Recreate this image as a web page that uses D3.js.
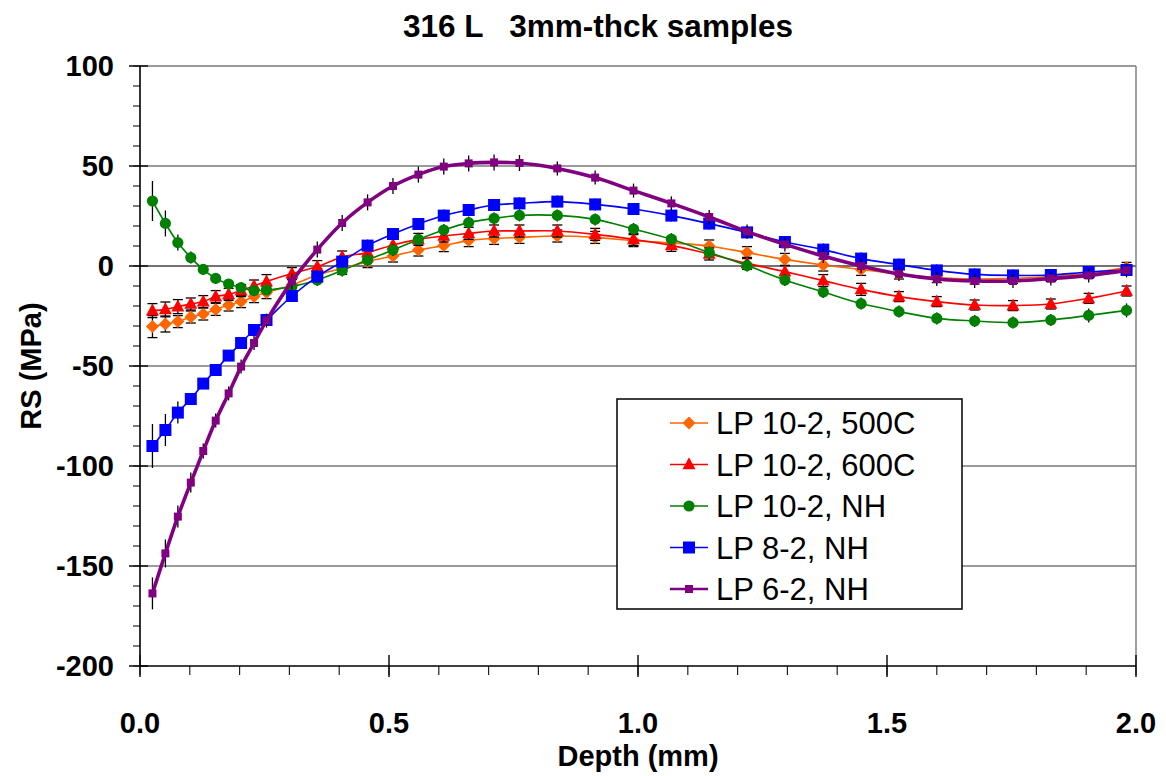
<!DOCTYPE html>
<html>
<head>
<meta charset="utf-8">
<script src="https://cdn.jsdelivr.net/npm/d3@7"></script>
<style>
  html, body { margin: 0; padding: 0; background: #fff; }
  svg { display: block; font-family: "Liberation Sans", Arial, Helvetica, sans-serif; }
</style>
</head>
<body>
<svg id="chart" width="1166" height="776"></svg>
<script>
// ---------------- DATA ----------------
const chartTitle = "316 L   3mm-thck samples";
const xAxisTitle = "Depth (mm)";
const yAxisTitle = "RS (MPa)";
const xTickValues = [0.0, 0.5, 1.0, 1.5, 2.0];
const xTickLabels = ["0.0", "0.5", "1.0", "1.5", "2.0"];
const yTickValues = [-200, -150, -100, -50, 0, 50, 100];
const yTickLabels = ["-200", "-150", "-100", "-50", "0", "50", "100"];

const depth = [0.025,0.051,0.076,0.102,0.127,0.152,0.178,0.203,0.229,0.254,
               0.305,0.356,0.406,0.457,0.508,0.559,0.610,0.660,0.711,0.762,
               0.838,0.914,0.991,1.067,1.143,1.219,1.295,1.372,1.448,1.524,
               1.600,1.676,1.753,1.829,1.905,1.981];

const seriesNames = ["LP 10-2, 500C", "LP 10-2, 600C", "LP 10-2, NH", "LP 8-2, NH", "LP 6-2, NH"];

const rs500C = [-30.3,-29,-27.8,-25.5,-24,-21.7,-19.5,-17.8,-15.3,-13.3,
                -9.5,-4.5,-1.2,2.2,5,8,10.2,12.7,13.8,14.3,
                15,14.3,12.7,11.5,10,6.7,3.3,0.5,-1.7,-4,
                -5.8,-6.5,-6.2,-5.3,-3.7,-0.7];
const rs600C = [-22.3,-21.7,-20.3,-19,-17.8,-15.3,-14.2,-12.3,-10,-7.8,
                -3.8,-0.3,4.5,6.7,10.5,13.3,15,16.3,17.5,17.5,
                17.5,15.8,13.3,10.3,6,1.3,-2.8,-7.3,-11.7,-15.3,
                -17.8,-19.5,-19.8,-19,-16.2,-12.5];
const rs10NH = [32.5,21.3,11.7,4.2,-1.7,-6.2,-9,-10.8,-12.3,-12,
                -10.3,-7,-2.2,3,8,13.3,18,21.7,23.8,25.3,
                25.3,23.3,18.5,13.4,6.8,0.2,-7,-13,-18.8,-22.8,
                -26.2,-27.5,-28.3,-27,-24.7,-22.2];
const rs8NH  = [-90,-82,-73.3,-66.5,-58.8,-52,-44.8,-38.5,-32,-27,
                -15,-5.3,2.2,10.2,16,21,25.2,28,30.5,31.3,
                32.2,30.8,28.5,25.2,21.2,16.8,12,8.2,3.7,0.7,
                -2.2,-4.2,-4.7,-4.5,-3,-2];
const rs6NH  = [-163.7,-143.7,-125.3,-108.3,-92.5,-77.3,-63.7,-50.3,-38.5,-27.3,
                -7.7,8.2,21.5,31.8,40,45.7,49.7,51.3,51.8,51.5,
                48.8,44.2,37.7,31.3,24.5,17.2,10.8,5,0,-4,
                -6.5,-7.5,-7.5,-6.3,-4.7,-2.2];

const err500C = [5.5,4,3,3,3,3,3,3,3,3, 3,3,3,3,3,3,3,3,3,3, 3,3,3,3,3,3,3,3,3,2.5, 2.5,2.5,2.5,2.5,2.5,2.5];
const err600C = [3.5,3.7,3.5,3,3,3,3,3,3,3.5, 3,3,3,3,3,3,3,3,3,3, 3,3,3,3,3,3,3,3,3,2.5, 2.5,2.5,2.5,2.5,2.5,2.5];
const err10NH = [10,6.5,4,3,2.5,2.5,2.5,2.5,2.5,2.5, 3,3,3,3,3,3,3,3,3,3, 3,3,3,3,3,3,3,3,3,3, 3,3,3,3,3.5,3.5];
const err8NH  = [11,8,5.5,3,2.5,2.5,2.5,2.5,2.5,2.5, 3,3,3,3,3,3,3,3,3,3, 3,3,3,3,3,3,3,3,3,3, 3,3,3,3,3,3];
const err6NH  = [8,7,5.5,5,3.7,3.5,3.5,3.5,3.5,3.5, 4,4,4,4,4,4,4,4,4,4, 3.5,3.5,3.5,3.5,3.5,3.5,3.5,3.5,3.5,3.5, 3.5,3.5,3.5,3.5,3.5,3.5];

// ---------------- STYLE / LAYOUT ----------------
const colors = ["#FF6600", "#FF0000", "#008000", "#0000FF", "#800080"];
const lineWidths = [1.6, 1.6, 1.6, 1.6, 3.6];
const markerTypes = ["diamond", "triangle", "circle", "square", "smallsquare"];
const capFlags = [true, true, false, false, false];
const values = [rs500C, rs600C, rs10NH, rs8NH, rs6NH];
const errors = [err500C, err600C, err10NH, err8NH, err6NH];

const plot = { left: 140, right: 1136, top: 66, bottom: 666 };
const svg = d3.select("#chart");

const x = d3.scaleLinear().domain([0, 2]).range([plot.left, plot.right]);
const y = d3.scaleLinear().domain([-200, 100]).range([plot.bottom, plot.top]);

// gridlines
svg.append("g").selectAll("line").data(yTickValues.filter(v => v > -200))
  .join("line")
  .attr("x1", plot.left).attr("x2", plot.right)
  .attr("y1", d => y(d)).attr("y2", d => y(d))
  .attr("stroke", d => d === 0 ? "#444" : "#7a7a7a")
  .attr("stroke-width", 1.4);

// right border
svg.append("line")
  .attr("x1", plot.right).attr("x2", plot.right)
  .attr("y1", plot.top).attr("y2", plot.bottom)
  .attr("stroke", "#7a7a7a").attr("stroke-width", 1.4);

// Y axis
const yMinor = d3.range(-200, 101, 10);
const gy = svg.append("g");
gy.selectAll("line.minor").data(yMinor).join("line")
  .attr("class", "minor")
  .attr("x1", plot.left - 7).attr("x2", plot.left)
  .attr("y1", d => y(d)).attr("y2", d => y(d))
  .attr("stroke", "#222").attr("stroke-width", 1.2);
gy.selectAll("line.major").data(yTickValues).join("line")
  .attr("class", "major")
  .attr("x1", plot.left - 11).attr("x2", plot.left + 8)
  .attr("y1", d => y(d)).attr("y2", d => y(d))
  .attr("stroke", "#111").attr("stroke-width", 1.5);
gy.append("line")
  .attr("x1", plot.left).attr("x2", plot.left)
  .attr("y1", plot.top).attr("y2", plot.bottom)
  .attr("stroke", "#000").attr("stroke-width", 1.6);
gy.selectAll("text").data(yTickValues).join("text")
  .attr("x", 114).attr("y", d => y(d)).attr("dy", "0.36em")
  .attr("text-anchor", "end")
  .attr("font-size", 29).attr("font-weight", "bold")
  .text((d, i) => yTickLabels[i]);

// X axis
const xMinor = d3.range(0, 2.0001, 0.1);
const gx = svg.append("g");
gx.selectAll("line.minor").data(xMinor).join("line")
  .attr("class", "minor")
  .attr("x1", d => x(d)).attr("x2", d => x(d))
  .attr("y1", plot.bottom).attr("y2", plot.bottom + 9)
  .attr("stroke", "#222").attr("stroke-width", 1.2);
gx.selectAll("line.major").data(xTickValues).join("line")
  .attr("class", "major")
  .attr("x1", d => x(d)).attr("x2", d => x(d))
  .attr("y1", plot.bottom - 11).attr("y2", plot.bottom + 11)
  .attr("stroke", "#111").attr("stroke-width", 1.5);
gx.append("line")
  .attr("x1", plot.left).attr("x2", plot.right)
  .attr("y1", plot.bottom).attr("y2", plot.bottom)
  .attr("stroke", "#000").attr("stroke-width", 1.6);
gx.selectAll("text").data(xTickValues).join("text")
  .attr("x", d => x(d)).attr("y", 733)
  .attr("text-anchor", "middle")
  .attr("font-size", 29).attr("font-weight", "bold")
  .text((d, i) => xTickLabels[i]);

// titles
svg.append("text")
  .attr("x", 598).attr("y", 37)
  .attr("text-anchor", "middle")
  .attr("font-size", 31.5).attr("font-weight", "bold")
  .style("white-space", "pre")
  .text(chartTitle);
svg.append("text")
  .attr("x", (plot.left + plot.right) / 2).attr("y", 766)
  .attr("text-anchor", "middle")
  .attr("font-size", 29).attr("font-weight", "bold")
  .text(xAxisTitle);
svg.append("text")
  .attr("transform", `translate(41,${y(-50)}) rotate(-90)`)
  .attr("text-anchor", "middle")
  .attr("font-size", 29).attr("font-weight", "bold")
  .text(yAxisTitle);

// markers
function drawMarker(g, type, cx, cy, color) {
  if (type === "diamond") {
    const s = 6.5;
    g.append("path").attr("d", `M${cx},${cy - s}L${cx + s},${cy}L${cx},${cy + s}L${cx - s},${cy}Z`).attr("fill", color);
  } else if (type === "triangle") {
    const w = 6.5, h = 12;
    g.append("path").attr("d", `M${cx},${cy - h * 0.6}L${cx + w},${cy + h * 0.4}L${cx - w},${cy + h * 0.4}Z`).attr("fill", color);
  } else if (type === "circle") {
    g.append("circle").attr("cx", cx).attr("cy", cy).attr("r", 5.6).attr("fill", color);
  } else if (type === "square") {
    g.append("rect").attr("x", cx - 6).attr("y", cy - 6).attr("width", 12).attr("height", 12).attr("fill", color);
  } else {
    g.append("rect").attr("x", cx - 4).attr("y", cy - 4).attr("width", 8).attr("height", 8).attr("fill", color);
  }
}

const line = d3.line().x(d => x(d[0])).y(d => y(d[1])).curve(d3.curveCatmullRom.alpha(0.5));

values.forEach((vals, i) => {
  const g = svg.append("g");
  const pts = depth.map((dx, j) => [dx, vals[j], errors[i][j]]);
  // error bars
  pts.forEach(p => {
    g.append("line")
      .attr("x1", x(p[0])).attr("x2", x(p[0]))
      .attr("y1", y(p[1] - p[2])).attr("y2", y(p[1] + p[2]))
      .attr("stroke", "#000").attr("stroke-width", 1.3);
    if (capFlags[i]) {
      [p[1] - p[2], p[1] + p[2]].forEach(v => {
        g.append("line")
          .attr("x1", x(p[0]) - 5).attr("x2", x(p[0]) + 5)
          .attr("y1", y(v)).attr("y2", y(v))
          .attr("stroke", "#000").attr("stroke-width", 1.3);
      });
    }
  });
  g.append("path").datum(pts).attr("d", line)
    .attr("fill", "none").attr("stroke", colors[i]).attr("stroke-width", lineWidths[i]);
  pts.forEach(p => drawMarker(g, markerTypes[i], x(p[0]), y(p[1]), colors[i]));
});

// legend
const lg = svg.append("g");
lg.append("rect").attr("x", 617).attr("y", 399).attr("width", 345).attr("height", 210)
  .attr("fill", "#fff").attr("stroke", "#000").attr("stroke-width", 1.5);
seriesNames.forEach((name, i) => {
  const cy = 423 + i * 41.5;
  lg.append("line").attr("x1", 670).attr("x2", 708).attr("y1", cy).attr("y2", cy)
    .attr("stroke", colors[i]).attr("stroke-width", lineWidths[i] === 3.6 ? 2.5 : 1.5);
  drawMarker(lg, markerTypes[i], 689, cy, colors[i]);
  lg.append("text").attr("x", 716).attr("y", cy).attr("dy", "0.36em")
    .attr("font-size", 31).text(name);
});
</script>
</body>
</html>
